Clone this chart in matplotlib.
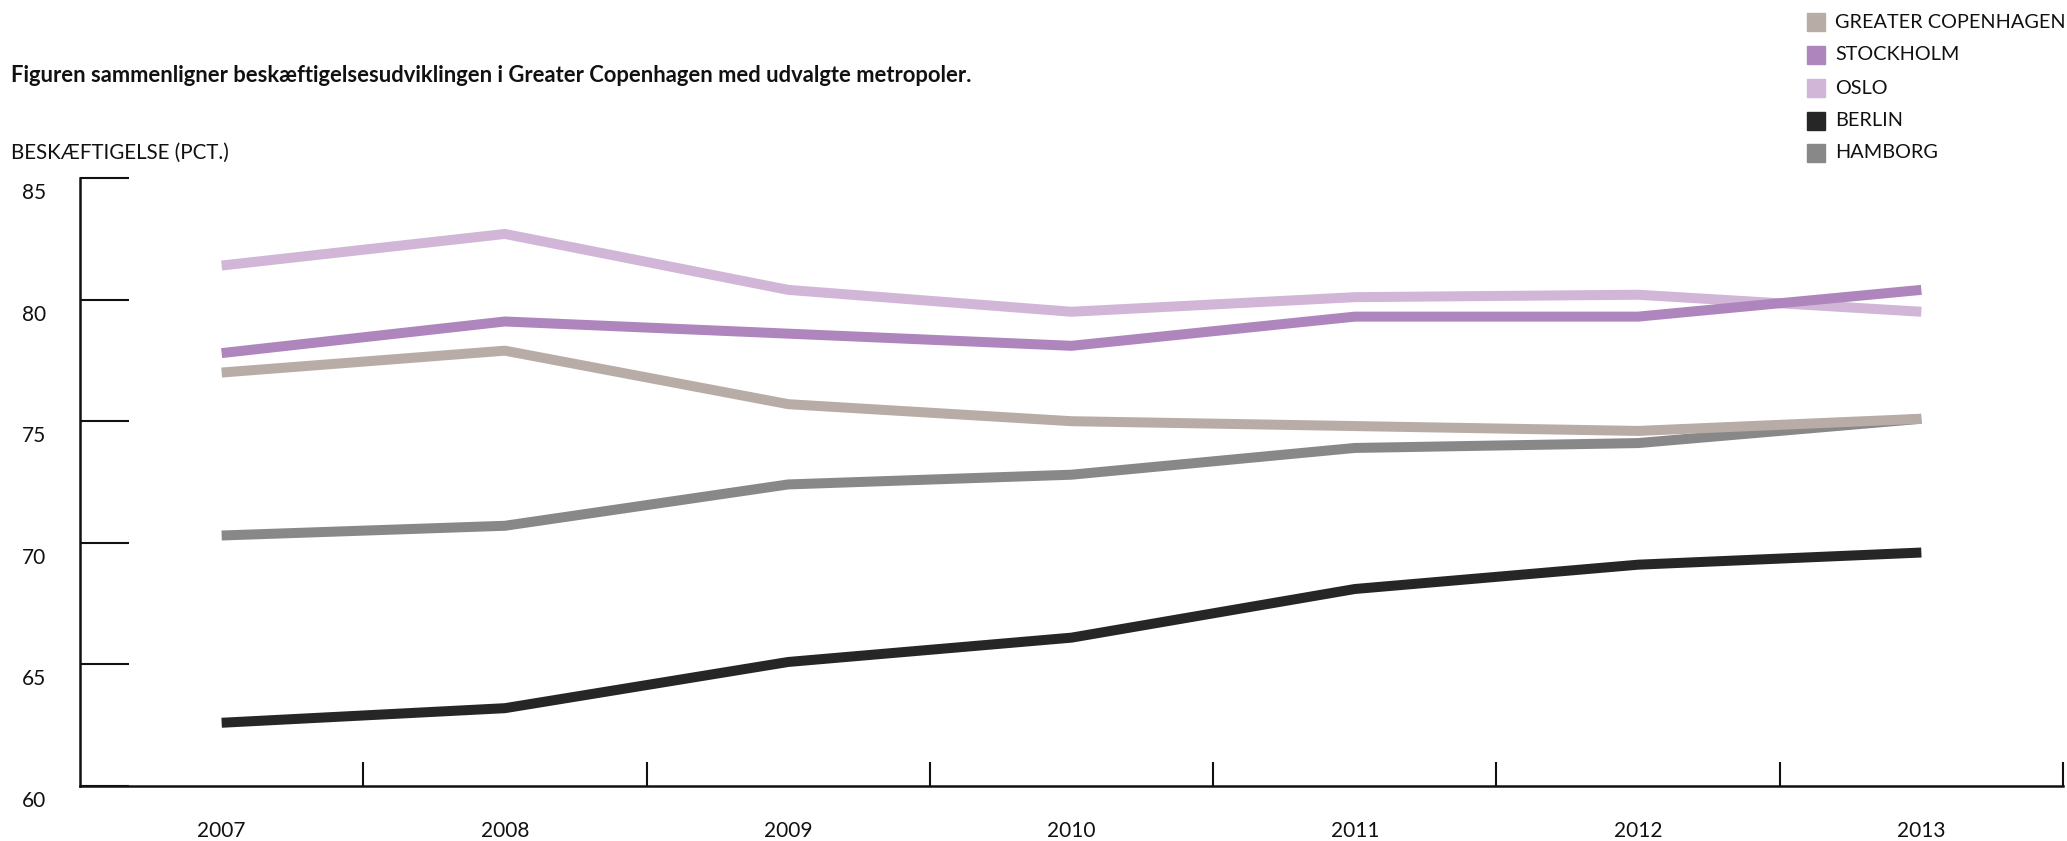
import matplotlib
matplotlib.use("Agg")
import matplotlib.pyplot as plt
import matplotlib.transforms as mtransforms
from matplotlib.patches import Rectangle

plt.rcParams['font.family'] = ['Lato', 'DejaVu Sans']

years = ['2007', '2008', '2009', '2010', '2011', '2012', '2013']
series_names = ['GREATER COPENHAGEN', 'STOCKHOLM', 'OSLO', 'BERLIN', 'HAMBORG']
copenhagen = [77.0, 77.9, 75.7, 75.0, 74.8, 74.6, 75.1]
stockholm = [77.8, 79.1, 78.6, 78.1, 79.3, 79.3, 80.4]
oslo = [81.4, 82.7, 80.4, 79.5, 80.1, 80.2, 79.5]
berlin = [62.6, 63.2, 65.1, 66.1, 68.1, 69.1, 69.6]
hamborg = [70.3, 70.7, 72.4, 72.8, 73.9, 74.1, 75.1]
y_ticks = [60, 65, 70, 75, 80, 85]

colors = {
    'GREATER COPENHAGEN': '#b8aca7',
    'STOCKHOLM': '#ae85bc',
    'OSLO': '#d1b6d8',
    'BERLIN': '#262626',
    'HAMBORG': '#888888',
}
values = {
    'GREATER COPENHAGEN': copenhagen,
    'STOCKHOLM': stockholm,
    'OSLO': oslo,
    'BERLIN': berlin,
    'HAMBORG': hamborg,
}

W, H = 2067, 841
fig = plt.figure(figsize=(W / 100, H / 100), dpi=100)
ax = fig.add_axes([80 / W, 1 - 786 / H, (2063 - 80) / W, (786 - 178) / H])

x = list(range(len(years)))
draw_order = ['HAMBORG', 'BERLIN', 'OSLO', 'STOCKHOLM', 'GREATER COPENHAGEN']
for name in draw_order:
    ax.plot(x, values[name], color=colors[name], lw=7.2, solid_capstyle='butt',
            solid_joinstyle='miter')

ax.set_xlim(-0.5, len(years) - 0.5)
ax.set_ylim(60, 85)

for s in ['top', 'right']:
    ax.spines[s].set_visible(False)
for s in ['left', 'bottom']:
    ax.spines[s].set_linewidth(1.8)
    ax.spines[s].set_color('#111111')

# x ticks at band boundaries, labels at band centres
ax.set_xticks([i + 0.5 for i in range(len(years))])
ax.set_xticklabels([])
ax.tick_params(axis='x', direction='in', length=17, width=1.5, color='#111111')
ax.set_xticks(x, minor=True)
ax.set_xticklabels(years, minor=True, fontsize=15, color='#111111')
ax.tick_params(axis='x', which='minor', length=0, pad=25)

ax.set_yticks(y_ticks)
ax.set_yticklabels([])
ax.tick_params(axis='y', direction='in', length=35, width=1.5, color='#111111')
ytr = mtransforms.blended_transform_factory(fig.transFigure, ax.transData) + \
    mtransforms.ScaledTranslation(0, -15 / 100, fig.dpi_scale_trans)
for v in y_ticks:
    fig.text(46 / W, v, str(v), transform=ytr, ha='right', va='center',
             fontsize=15, color='#111111')

fig.text(11 / W, 1 - 75 / H,
         'Figuren sammenligner beskæftigelsesudviklingen i Greater Copenhagen med udvalgte metropoler.',
         ha='left', va='center', fontsize=15.8, fontweight='bold', color='#111111')
fig.text(11 / W, 1 - 153 / H, 'BESKÆFTIGELSE (PCT.)', ha='left', va='center',
         fontsize=14.8, color='#111111')

# legend
row_y = [22, 55, 88, 121, 153]
for name, ry in zip(series_names, row_y):
    fig.patches.append(Rectangle(((1807) / W, 1 - (ry + 9) / H), 18 / W, 18 / H,
                                 transform=fig.transFigure, color=colors[name]))
    fig.text(1835 / W, 1 - ry / H, name, ha='left', va='center', fontsize=14.3,
             color='#111111')

fig.savefig('out.png', dpi=100)
